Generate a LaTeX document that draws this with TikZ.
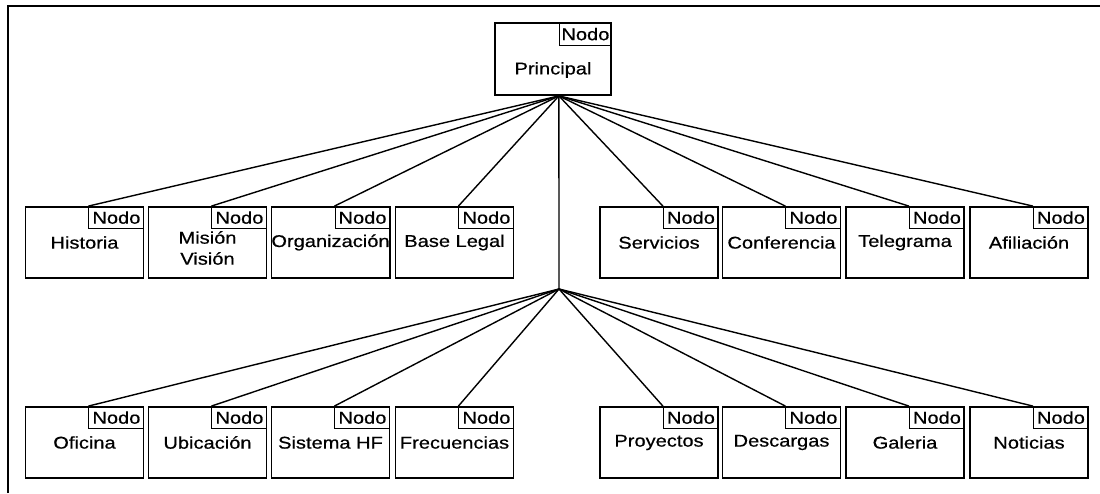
\documentclass[tikz,border=0pt]{standalone}
\usepackage{fontspec}
\setmainfont[FakeStretch=1.18,FakeBold=0.6]{Liberation Sans}
\begin{document}
\begin{tikzpicture}[x=1pt,y=-1pt,
  txt/.style={font=\fontsize{17}{21}\selectfont},
  box/.style={txt,draw,line width=1.8pt,minimum width=118pt,minimum height=71pt,inner sep=0pt,align=center},
  tag/.style={txt,draw,line width=1pt,minimum width=55pt,minimum height=22pt,inner sep=0pt,anchor=north east},
  conn/.style={line width=1.4pt}]
\useasboundingbox (0,0) rectangle (1100,493);
\draw[line width=2pt] (8,493) -- (8,6) -- (1100,6);
% top node
\node[box,minimum width=116pt,minimum height=72pt] (P) at (553,59) {};
\node[tag,minimum width=52pt,minimum height=23pt] (tP) at (P.north east) {Nodo};
\node[txt] (Ptxt) at (553,70) {Principal};
\path (P.south -| tP.west) coordinate (s);
\coordinate (hub) at (559,289);
% row 1
\node[box] (a2) at (207.5,242.5) {};
\node[txt,align=center] (a2txt) at (207.5,248) {Misión\\Visión};
\foreach \i/\x/\t in {1/84.5/Historia,3/330.5/Organización,4/454.5/Base Legal,5/659/Servicios,6/781.5/Conferencia,7/905/Telegrama,8/1029/Afiliación}{
  \node[box] (a\i) at (\x,242.5) {\t};
}
\foreach \i in {1,...,8}{
  \node[tag] (ta\i) at (a\i.north east) {Nodo};
  \draw[conn] (s) -- (ta\i.north west);
}
% row 2
\foreach \i/\x/\t in {1/84.5/Oficina,2/207.5/Ubicación,3/330.5/Sistema HF,4/454.5/Frecuencias,5/659/Proyectos,6/781.5/Descargas,7/905/Galeria,8/1029/Noticias}{
  \node[box] (b\i) at (\x,442.5) {\t};
  \node[tag] (tb\i) at (b\i.north east) {Nodo};
  \draw[conn] (hub) -- (tb\i.north west);
}
\draw[conn] (s) -- (hub);
\end{tikzpicture}
\end{document}
